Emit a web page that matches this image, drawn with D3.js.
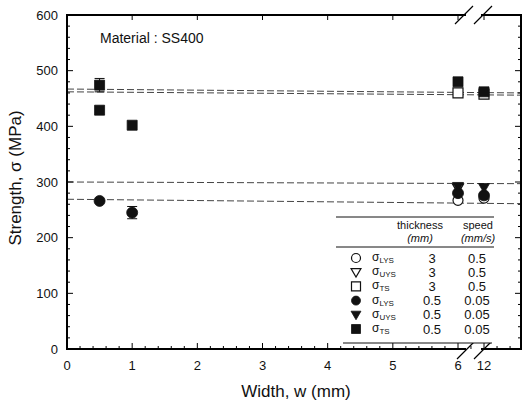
<!DOCTYPE html>
<html>
<head>
<meta charset="utf-8">
<script src="https://cdn.jsdelivr.net/npm/d3@7"></script>
<style>
body { margin: 0; background: #fff; }
text { font-family: "Liberation Sans", Arial, sans-serif; fill: #111; }
</style>
</head>
<body>
<svg id="canvas" width="528" height="403"></svg>
<script>
// tick labels
const xTicks = [0, 1, 2, 3, 4, 5, 6, 12];
const yTicks = [0, 100, 200, 300, 400, 500, 600];

// data (w in mm, v in MPa, err = half error bar)
const lysThick = [{w: 6, v: 267}, {w: 12, v: 271}];
const uysThick = [{w: 6, v: 289}];
const tsThick = [{w: 6, v: 460}, {w: 12, v: 458}];
const lysThin = [{w: 0.5, v: 266}, {w: 1, v: 245, err: 11}, {w: 6, v: 280}, {w: 12, v: 276}];
const uysThin = [{w: 6, v: 292}, {w: 12, v: 290}];
const tsThin = [{w: 0.5, v: 474, err: 12}, {w: 0.5, v: 429}, {w: 1, v: 402}, {w: 6, v: 480}, {w: 12, v: 462}];

// dashed reference lines: value at left edge, value at right edge
const refLines = [[467, 460], [462, 456], [300, 297], [269, 261]];

// legend rows
const legendSym = ['oc', 'ot', 'os', 'fc', 'ft', 'fs'];
const legendSub = ['LYS', 'UYS', 'TS', 'LYS', 'UYS', 'TS'];
const legendThick = ['3', '3', '3', '0.5', '0.5', '0.5'];
const legendSpeed = ['0.5', '0.5', '0.5', '0.05', '0.05', '0.05'];

let canvas = d3.select('#canvas');

// plot frame
const pLeft = 67, pRight = 521, pTop = 15, pBottom = 349;

// broken x axis: two linear pieces
let x1 = d3.scaleLinear().domain([0, 6]).range([pLeft, 458]);
let x2 = d3.scaleLinear().domain([12 - 26 / 65.17, 12 + 37 / 65.17]).range([458, pRight]);
let x = (w) => w <= 6 ? x1(w) : x2(w);
let y = d3.scaleLinear().domain([0, 600]).range([pBottom, pTop]);

// break position on axes
const gapL = 466, gapR = 481;

// dashed lines
canvas.selectAll('line.ref')
    .data(refLines)
    .enter()
    .append('line')
    .attr('class', 'ref')
    .attr('x1', x(0))
    .attr('x2', x2.range()[1])
    .attr('y1', d => y(d[0]))
    .attr('y2', d => y(d[1]))
    .attr('stroke', '#444')
    .attr('stroke-width', 1)
    .attr('stroke-dasharray', '7,3');

// frame lines (top and bottom broken)
let frame = canvas.append('g')
    .attr('stroke', '#000')
    .attr('stroke-width', 2)
    .attr('fill', 'none');
frame.append('path').attr('d', `M${gapL},${pTop}H${pLeft}V${pBottom}H${gapL}`);
frame.append('path').attr('d', `M${gapR},${pTop}H${pRight}V${pBottom}H${gapR}`);

// break marks
let slash = (cx, cy) => `M${cx - 9},${cy + 9}L${cx + 9},${cy - 9}`;
canvas.append('path')
    .attr('d', slash(gapL - 2, pTop) + slash(gapR + 2, pTop) + slash(gapL, pBottom + 1) + slash(gapR + 2, pBottom + 1))
    .attr('stroke', '#000')
    .attr('stroke-width', 1.2);

// ticks
let tickG = canvas.append('g').attr('stroke', '#000').attr('stroke-width', 1);
let xMinor = d3.range(0, 6.01, 0.2).concat([11.8, 12.2, 12.4]);
xMinor.forEach(w => {
    if (Math.abs(w - Math.round(w)) < 1e-6) return;
    tickG.append('line').attr('x1', x(w)).attr('x2', x(w)).attr('y1', pBottom).attr('y2', pBottom - 3);
});
xTicks.forEach(w => {
    tickG.append('line').attr('x1', x(w)).attr('x2', x(w)).attr('y1', pBottom).attr('y2', pBottom - 6);
    tickG.append('line').attr('x1', x(w)).attr('x2', x(w)).attr('y1', pTop).attr('y2', pTop + 5);
});
d3.range(0, 601, 20).forEach(v => {
    let len = v % 100 === 0 ? 6 : 3;
    tickG.append('line').attr('x1', pLeft).attr('x2', pLeft + len).attr('y1', y(v)).attr('y2', y(v));
    tickG.append('line').attr('x1', pRight).attr('x2', pRight - len).attr('y1', y(v)).attr('y2', y(v));
});

// tick labels
canvas.selectAll('text.xt')
    .data(xTicks)
    .enter()
    .append('text')
    .attr('class', 'xt')
    .attr('x', d => x(d))
    .attr('y', 370)
    .attr('text-anchor', 'middle')
    .style('font-size', '13px')
    .text(d => d);
canvas.selectAll('text.yt')
    .data(yTicks)
    .enter()
    .append('text')
    .attr('class', 'yt')
    .attr('x', 58)
    .attr('y', d => y(d) + 4.5)
    .attr('text-anchor', 'end')
    .style('font-size', '13px')
    .text(d => d);

// axis titles
canvas.append('text')
    .attr('x', 296)
    .attr('y', 397)
    .attr('text-anchor', 'middle')
    .style('font-size', '17px')
    .text('Width, w (mm)');
canvas.append('text')
    .attr('transform', 'translate(21,178) rotate(-90)')
    .attr('text-anchor', 'middle')
    .style('font-size', '17px')
    .text('Strength, σ (MPa)');

canvas.append('text')
    .attr('x', 100)
    .attr('y', 43)
    .style('font-size', '14px')
    .text('Material : SS400');

// markers
let symPath = (kind, cx, cy, s) => {
    if (kind === 'c') return `M${cx - s},${cy}a${s},${s} 0 1,0 ${2 * s},0a${s},${s} 0 1,0 ${-2 * s},0Z`;
    if (kind === 's') return `M${cx - s},${cy - s}h${2 * s}v${2 * s}h${-2 * s}Z`;
    return `M${cx - s * 1.1},${cy - s * 0.8}H${cx + s * 1.1}L${cx},${cy + s * 1.1}Z`;
};
let drawSym = (g, code, cx, cy, s) => {
    let filled = code[0] === 'f';
    g.append('path')
        .attr('d', symPath(code[1], cx, cy, s))
        .attr('fill', filled ? '#111' : '#fff')
        .attr('stroke', '#111')
        .attr('stroke-width', filled ? 0.8 : 1.2);
};

let series = [
    {data: uysThick, code: 'ot', s: 5},
    {data: lysThick, code: 'oc', s: 5},
    {data: tsThick, code: 'os', s: 5},
    {data: lysThin, code: 'fc', s: 5.5},
    {data: uysThin, code: 'ft', s: 5},
    {data: tsThin, code: 'fs', s: 5}
];
let markG = canvas.append('g');
series.forEach(sr => {
    sr.data.forEach(d => {
        if (d.err) {
            let px = x(d.w);
            markG.append('path')
                .attr('d', `M${px},${y(d.v - d.err)}V${y(d.v + d.err)}M${px - 5},${y(d.v - d.err)}h10M${px - 5},${y(d.v + d.err)}h10`)
                .attr('stroke', '#111')
                .attr('stroke-width', 1);
        }
        drawSym(markG, sr.code, x(d.w), y(d.v), sr.s);
    });
});

// legend
let lg = canvas.append('g');
lg.append('rect').attr('x', 336).attr('y', 217).attr('width', 158).attr('height', 126).attr('fill', '#fff');
lg.append('line').attr('x1', 336).attr('x2', 494).attr('y1', 217).attr('y2', 217).attr('stroke', '#111');
lg.append('line').attr('x1', 336).attr('x2', 494).attr('y1', 247).attr('y2', 247).attr('stroke', '#111');
lg.append('line').attr('x1', 343).attr('x2', 492).attr('y1', 343).attr('y2', 343).attr('stroke', '#111');
lg.append('text').attr('x', 420).attr('y', 229).attr('text-anchor', 'middle').style('font-size', '11px').text('thickness');
lg.append('text').attr('x', 478).attr('y', 229).attr('text-anchor', 'middle').style('font-size', '11px').text('speed');
lg.append('text').attr('x', 420).attr('y', 242).attr('text-anchor', 'middle').style('font-size', '11px').style('font-style', 'italic').text('(mm)');
lg.append('text').attr('x', 478).attr('y', 242).attr('text-anchor', 'middle').style('font-size', '11px').style('font-style', 'italic').text('(mm/s)');

let rowY = d3.scaleLinear().domain([0, 5]).range([258, 329]);
legendSym.forEach((code, i) => {
    let cy = rowY(i);
    drawSym(lg, code, 356, cy, 4.5);
    let t = lg.append('text').attr('x', 372).attr('y', cy + 3).style('font-size', '12px');
    t.append('tspan').text('σ');
    t.append('tspan').attr('dy', 2).style('font-size', '8px').text(legendSub[i]);
    lg.append('text').attr('x', 432).attr('y', cy + 4.5).attr('text-anchor', 'middle').style('font-size', '13px').text(legendThick[i]);
    lg.append('text').attr('x', 477).attr('y', cy + 4.5).attr('text-anchor', 'middle').style('font-size', '13px').text(legendSpeed[i]);
});
</script>
</body>
</html>
